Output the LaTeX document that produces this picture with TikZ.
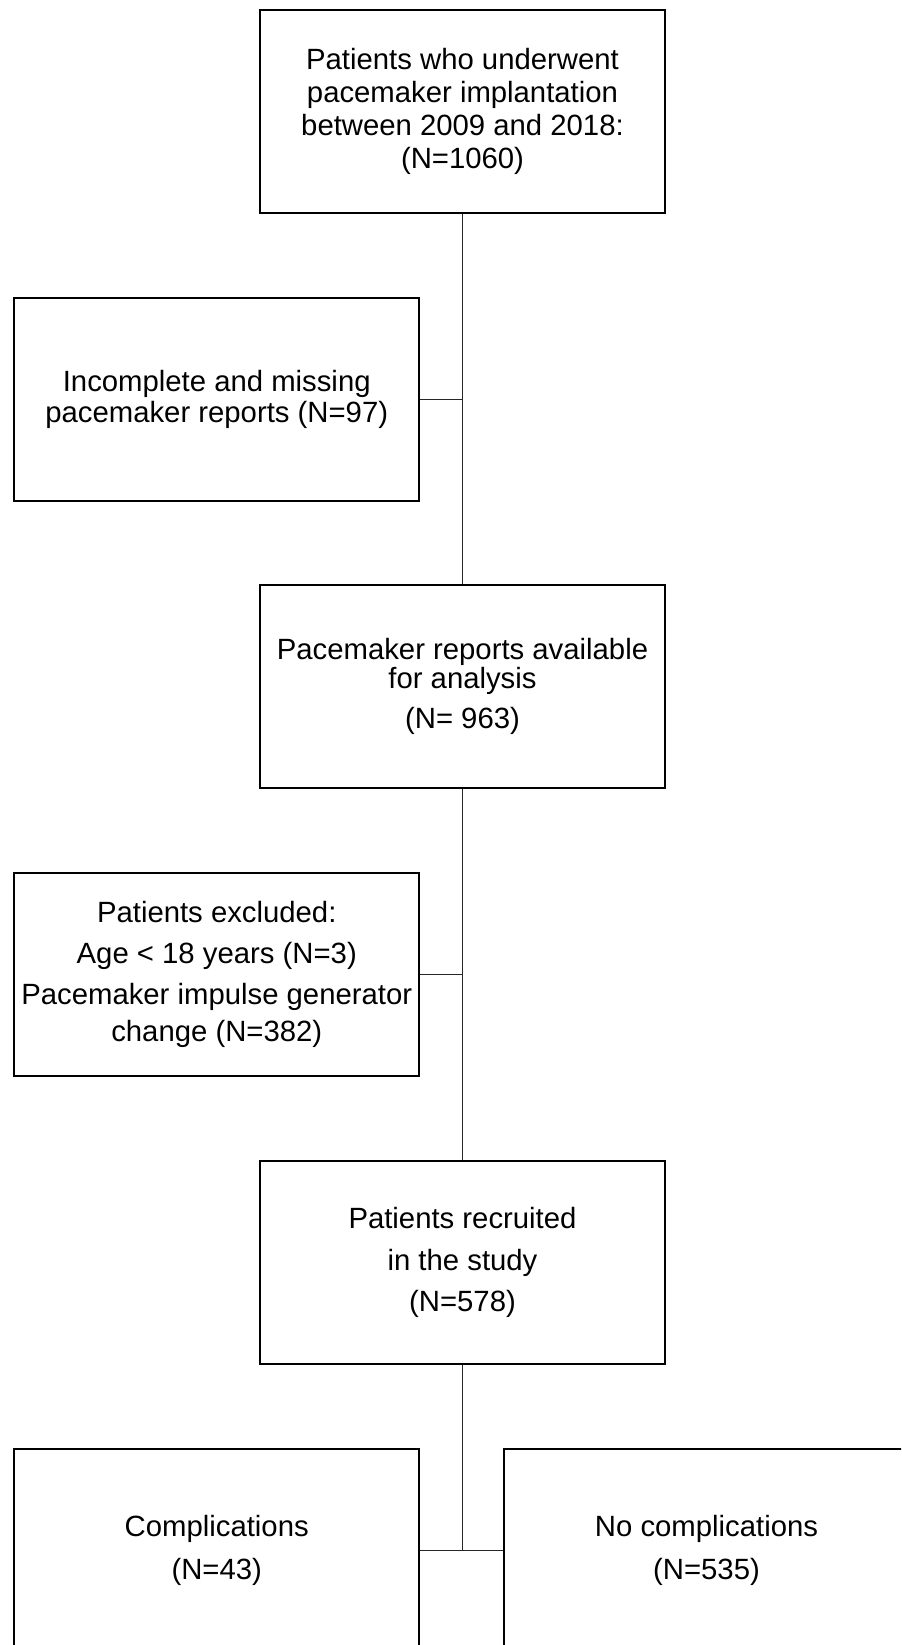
\documentclass[tikz,border=0pt]{standalone}
\usepackage{fontspec}
\setmainfont{Liberation Sans}
\usepackage{tikz}
\tikzset{
	flowbox/.style={draw=black, line width=1pt, rectangle, align=center,
		minimum width=202.5pt, minimum height=101.5pt, inner sep=0pt,
		font=\fontsize{14.65pt}{15.5pt}\selectfont},
	link/.style={line width=0.5pt, color=black!85}
}

\begin{document}
\begin{tikzpicture}[x=0.5pt, y=-0.5pt]
		%%%%% START %%%%%
		
		\useasboundingbox (0, 0) rectangle (901, 1645);
		\clip (0, 0) rectangle (901, 1645);
		
		\node[flowbox] (total) at (462.5, 111.5) {Patients who underwent\\[1pt]pacemaker implantation\\[1pt]between 2009 and 2018:\\[1pt](N=1060)};
		\node[flowbox] (missing) at (216.75, 399) {Incomplete and missing\\pacemaker reports (N=97)};
		\node[flowbox] (avail) at (462.5, 686.5) {Pacemaker reports available\\[-1pt]for analysis\\[4.5pt](N= 963)};
		\node[flowbox] (excluded) at (216.75, 974) {Patients excluded:\\[5pt]Age < 18 years (N=3)\\[5pt]Pacemaker impulse generator\\[3pt]change (N=382)};
		\node[flowbox] (recruited) at (462.5, 1262.5) {Patients recruited\\[5.5pt]in the study\\[5pt](N=578)};
		
		\node[flowbox] (compl) at (216.75, 1550.5) {Complications\\[6pt](N=43)};
		\node[flowbox] (nocompl) at (706.5, 1550.5) {No complications\\[6pt](N=535)};
		
		\draw[link] (total.south) -- (avail.north);
		\draw[link] (missing.east) -- (missing.east -| total.south);
		
		\draw[link] (avail.south) -- (recruited.north);
		\draw[link] (excluded.east) -- (excluded.east -| avail.south);
		
		\draw[link] (recruited.south) -- (recruited.south |- compl.east);
		\draw[link] (compl.east) -- (nocompl.west);
		
		%%%%% END %%%%%
	\end{tikzpicture}
\end{document}
